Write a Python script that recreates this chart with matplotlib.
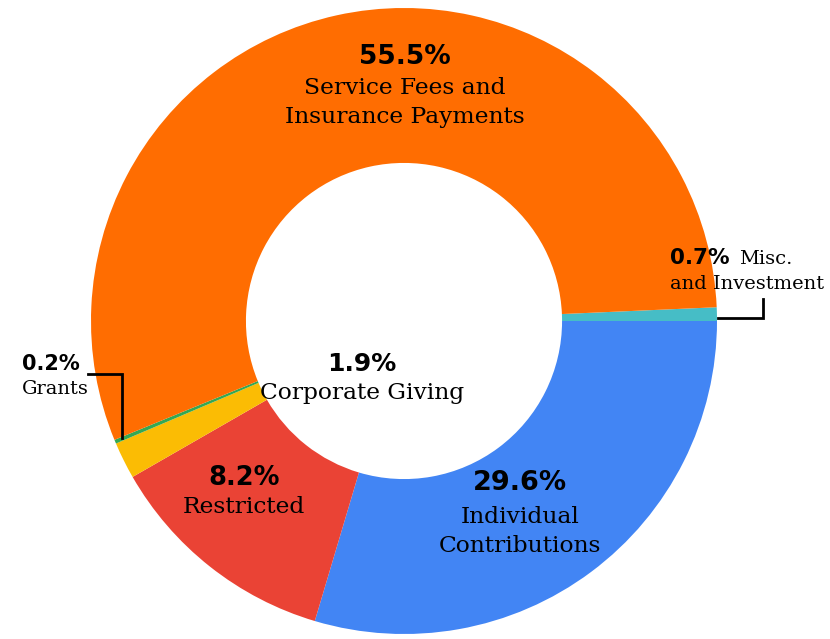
import matplotlib
matplotlib.use("Agg")
import matplotlib.pyplot as plt

# Data (order clockwise from 3 o'clock)
categories = ["Misc. and Investment", "Individual Contributions", "Restricted",
              "Corporate Giving", "Grants", "Service Fees and Insurance Payments"]
shares = [0.7, 29.6, 12.1, 1.9, 0.2, 55.5]          # slice sizes as drawn
pct_labels = ["0.7%", "29.6%", "8.2%", "1.9%", "0.2%", "55.5%"]  # printed labels
colors = ["#46BDC6", "#4285F4", "#EA4335", "#FBBC04", "#34A853", "#FF6D01"]

W, H = 830, 639
fig = plt.figure(figsize=(W / 100, H / 100), dpi=100)
ax = fig.add_axes([0, 0, 1, 1])

cx, cy, R = 404, H - 321, 313
ax.pie(shares, colors=colors, startangle=shares[0] * 3.6, counterclock=False,
       center=(cx, cy), radius=R,
       wedgeprops=dict(width=R * 0.495, linewidth=0))
ax.set_xlim(0, W)
ax.set_ylim(0, H)
ax.set_aspect("auto")
ax.axis("off")

serif = "DejaVu Serif"
bold = dict(family="DejaVu Sans", weight="bold")
LBL = 16.8
SML = 14

def y(v):
    return H - v

# Service fees
ax.text(405, y(57), pct_labels[5], ha="center", va="center", fontsize=19, **bold)
ax.text(405, y(88), "Service Fees and", ha="center", va="center", fontsize=LBL, family=serif)
ax.text(405, y(117), "Insurance Payments", ha="center", va="center", fontsize=LBL, family=serif)

# Individual contributions
ax.text(520, y(483), pct_labels[1], ha="center", va="center", fontsize=19.5, **bold)
ax.text(520, y(517), "Individual", ha="center", va="center", fontsize=LBL, family=serif)
ax.text(520, y(546), "Contributions", ha="center", va="center", fontsize=LBL, family=serif)

# Restricted
ax.text(244, y(478), pct_labels[2], ha="center", va="center", fontsize=18.5, **bold)
ax.text(244, y(507), "Restricted", ha="center", va="center", fontsize=LBL, family=serif)

# Corporate giving
ax.text(362, y(364), pct_labels[3], ha="center", va="center", fontsize=18, **bold)
ax.text(362, y(393), "Corporate Giving", ha="center", va="center", fontsize=LBL, family=serif)

# Misc and investment
ax.text(670, y(258), pct_labels[0], ha="left", va="center", fontsize=15.5, **bold)
ax.text(739, y(259), "Misc.", ha="left", va="center", fontsize=SML, family=serif)
ax.text(670, y(284), "and Investment", ha="left", va="center", fontsize=SML, family=serif)
ax.plot([718, 763, 763], [y(318), y(318), y(299)], color="black", lw=2,
        solid_joinstyle="miter")

# Grants
ax.text(22, y(364), pct_labels[4], ha="left", va="center", fontsize=15, **bold)
ax.text(22, y(389), "Grants", ha="left", va="center", fontsize=SML, family=serif)
ax.plot([88, 122, 122], [y(374), y(374), y(438)], color="black", lw=2,
        solid_joinstyle="miter")

fig.savefig("out.png", dpi=100, facecolor="white")
